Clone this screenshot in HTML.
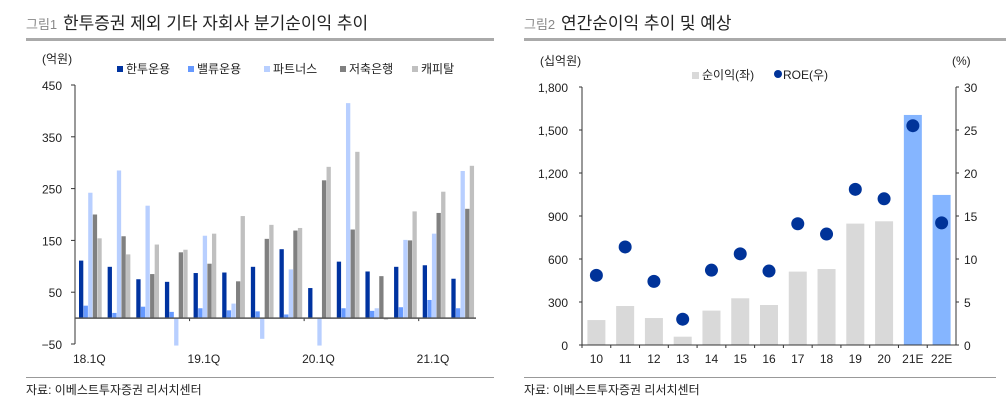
<!DOCTYPE html>
<html><head><meta charset="utf-8">
<style>
html,body{margin:0;padding:0;background:#fff;}
body{width:1006px;height:409px;overflow:hidden;font-family:"Liberation Sans","Noto Sans CJK KR",sans-serif;}
svg text{font-family:"Liberation Sans","Noto Sans CJK KR",sans-serif;}
</style></head>
<body>
<svg id="c" width="1006" height="409" viewBox="0 0 1006 409" xmlns="http://www.w3.org/2000/svg">
  <g>
    <text x="26" y="29" font-size="13" fill="#888">그림1</text>
    <text x="63" y="29" font-size="17" fill="#222">한투증권 제외 기타 자회사 분기순이익 추이</text>
    <rect x="26" y="38" width="468" height="3" fill="#aaa"/>
  </g>
  <g>
    <text x="524" y="29" font-size="13" fill="#888">그림2</text>
    <text x="561" y="29" font-size="17" fill="#222">연간순이익 추이 및 예상</text>
    <rect x="524" y="38" width="482" height="3" fill="#aaa"/>
  </g>
  <rect x="26" y="377" width="468" height="1" fill="#999"/>
  <rect x="524" y="377" width="472" height="1" fill="#999"/>
  <text x="26" y="394" font-size="12" fill="#222">자료: 이베스트투자증권 리서치센터</text>
  <text x="524" y="394" font-size="12" fill="#222">자료: 이베스트투자증권 리서치센터</text>
  <g id="left"></g>
  <g id="right"></g>
</svg>
<script>
const NS='http://www.w3.org/2000/svg';
// ---- Left chart data ----
const quarters=['18.1Q','18.2Q','18.3Q','18.4Q','19.1Q','19.2Q','19.3Q','19.4Q','20.1Q','20.2Q','20.3Q','20.4Q','21.1Q','21.2Q'];
const seriesNames=['한투운용','밸류운용','파트너스','저축은행','캐피탈'];
const sHantu=[111,99,75,70,87,88,99,133,58,109,90,99,102,76];
const sValue=[24,10,22,12,19,15,13,7,1,19,14,21,35,19];
const sPartners=[242,285,217,-53,159,28,-40,94,-53,415,19,151,163,284];
const sSavings=[200,158,85,127,105,71,153,169,266,171,81,150,203,211];
const sCapital=[154,123,142,132,163,197,180,174,292,321,-3,206,244,294];
const leftTicks=[450,350,250,150,50,-50];
// ---- Right chart data ----
const years=['10','11','12','13','14','15','16','17','18','19','20','21E','22E'];
const netIncome=[174,272,188,58,240,326,279,512,530,847,863,1605,1047];
const roe=[8.1,11.4,7.4,3.0,8.7,10.6,8.6,14.1,12.9,18.1,17.0,25.5,14.2];
const leftAxisTicks=[0,300,600,900,1200,1500,1800];
const rightAxisTicks=[0,5,10,15,20,25,30];

function el(tag,attrs,parent,text){const e=document.createElementNS(NS,tag);for(const k in attrs)e.setAttribute(k,attrs[k]);if(text!==undefined)e.textContent=text;parent.appendChild(e);return e;}

// Left chart
(function(){
  const g=document.getElementById('left');
  const x0=75,x1=476,yTop=85,yBot=344,vMin=-50,vMax=450;
  const y=v=>yBot-(v-vMin)/(vMax-vMin)*(yBot-yTop);
  const step=(x1-x0)/quarters.length;
  const bw=4.6;
  const colors=['#0033a0','#6699ff','#b8cfff','#808080','#c0c0c0'];
  const data=[sHantu,sValue,sPartners,sSavings,sCapital];
  let t=el('text',{x:42,y:63,'font-size':12,fill:'#222'},g,'(억원)');
  
  const lx=[117,188,264,340,412];
  seriesNames.forEach((n,i)=>{
    const r=el('rect',{x:lx[i],y:66,width:6,height:6,fill:colors[i]},g);
    
    const tt=el('text',{x:lx[i]+9,y:73,'font-size':12,fill:'#222'},g,n);
    
  });
  leftTicks.forEach(v=>{
    const tk=el('text',{x:62,y:y(v)+5,'font-size':12,fill:'#222','text-anchor':'end'},g,v<0?'\u2212'+Math.abs(v):String(v));
    
    const tl=el('line',{x1:x0-4,x2:x0,y1:y(v),y2:y(v),stroke:'#333'},g);
    
  });
  const ax=el('line',{x1:x0,x2:x0,y1:yTop,y2:yBot,stroke:'#333'},g);
  
  quarters.forEach((q,i)=>{
    const gx=x0+i*step+4;
    data.forEach((s,j)=>{
      const v=s[i];const yy=Math.min(y(v),y(0));const h=Math.abs(y(v)-y(0));
      const b=el('rect',{x:gx+j*bw,y:yy,width:bw-0.3,height:Math.max(h,0.5),fill:colors[j]},g);
      
      
    });
    if(i%4===0){
      const lb=el('text',{x:x0+i*step+step/2,y:363,'font-size':12,fill:'#222','text-anchor':'middle'},g,q);
      
      if(i>0){const tk=el('line',{x1:x0+i*step,x2:x0+i*step,y1:y(0),y2:y(0)+3,stroke:'#333'},g);
      }
    }
  });
  const xa=el('line',{x1:x0,x2:x1,y1:y(0),y2:y(0),stroke:'#555','stroke-width':1.5},g);
  
})();

// Right chart
(function(){
  const g=document.getElementById('right');
  const x0=582,x1=956,yTop=87,yBot=345,lMax=1800,rMax=30;
  const yl=v=>yBot-v/lMax*(yBot-yTop);
  const yr=v=>yBot-v/rMax*(yBot-yTop);
  const step=(x1-x0)/years.length;
  let t=el('text',{x:540,y:65,'font-size':12,fill:'#222'},g,'(십억원)');
  
  t=el('text',{x:952,y:65,'font-size':12,fill:'#222'},g,'(%)');
  
  let r=el('rect',{x:692,y:72,width:7,height:7,fill:'#d9d9d9'},g);
  
  t=el('text',{x:702,y:79,'font-size':12,fill:'#222'},g,'순이익(좌)');
  
  let c=el('circle',{cx:778,cy:74,r:4,fill:'#003399'},g);
  
  t=el('text',{x:783,y:79,'font-size':12,fill:'#222'},g,'ROE(우)');
  
  leftAxisTicks.forEach(v=>{
    const tk=el('text',{x:568,y:yl(v)+5,'font-size':12,fill:'#222','text-anchor':'end'},g,v.toLocaleString('en-US'));
    
    const tl=el('line',{x1:x0-3,x2:x0,y1:yl(v),y2:yl(v),stroke:'#333'},g);
    
  });
  rightAxisTicks.forEach(v=>{
    const tk=el('text',{x:964,y:yr(v)+5,'font-size':12,fill:'#222'},g,String(v));
    
    const tl=el('line',{x1:x1,x2:x1+3,y1:yr(v),y2:yr(v),stroke:'#333'},g);
    
  });
  years.forEach((yv,i)=>{
    const cx=x0+i*step+step/2;
    const b=el('rect',{x:cx-9,y:yl(netIncome[i]),width:18,height:yBot-yl(netIncome[i]),fill:yv.endsWith('E')?'#85b5ff':'#d9d9d9'},g);
    
    
    const lb=el('text',{x:cx,y:363,'font-size':12,fill:'#222','text-anchor':'middle'},g,yv);
    
    const tk=el('line',{x1:x0+i*step,x2:x0+i*step,y1:yBot,y2:yBot+3,stroke:'#333'},g);
    
  });
  years.forEach((yv,i)=>{
    const cx=x0+i*step+step/2;
    const p=el('circle',{cx:cx,cy:yr(roe[i]),r:6.5,fill:'#003399'},g);
    
    
  });
  let a=el('line',{x1:x0,x2:x0,y1:yTop,y2:yBot,stroke:'#333'},g);
  
  a=el('line',{x1:x1,x2:x1,y1:yTop,y2:yBot,stroke:'#333'},g);
  
  a=el('line',{x1:x0,x2:x1,y1:yBot,y2:yBot,stroke:'#333'},g);
  
})();
</script>
</body></html>
